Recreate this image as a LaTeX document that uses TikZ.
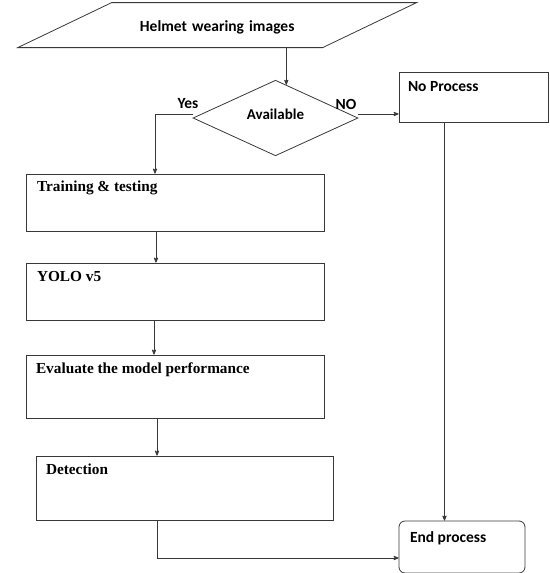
\documentclass[tikz,border=0pt]{standalone}
\usepackage{fontspec}
\usepackage{tikz}
\usetikzlibrary{arrows,shapes.geometric}
\newfontfamily\calfont{Carlito}
\newfontfamily\timesfont{Liberation Serif}
\definecolor{cline}{rgb}{0.22,0.22,0.22}

\begin{document}
\begin{tikzpicture}[-,>=stealth',x=1pt,y=-1pt,line width=0.8pt,
  box node/.style={rectangle,draw=cline,minimum width=298pt,minimum height=57pt,inner sep=0pt},
  input node/.style={trapezium,trapezium left angle=25.6,trapezium right angle=154.4,
        draw=cline,text width=211pt,align=center,text height=29pt,text depth=16pt,inner sep=0pt,
        font=\calfont\bfseries\fontsize{15.5}{17}\selectfont},
  decision node/.style={diamond,draw=cline,minimum width=165pt,minimum height=73pt,inner sep=0pt,
        text depth=8pt,font=\calfont\bfseries\fontsize{15}{17}\selectfont},
  head/.style={anchor=north west,inner sep=0pt,font=\timesfont\bfseries\fontsize{15.3}{17}\selectfont},
  calhead/.style={anchor=north west,inner sep=0pt,font=\calfont\bfseries\fontsize{15.5}{17}\selectfont},
  answer/.style={inner sep=0pt,font=\calfont\bfseries\fontsize{15.5}{17}\selectfont}]
  \useasboundingbox (0,0) rectangle (549,573);

  \node[input node,anchor=bottom left corner] (img) at (16,48) {Helmet wearing images};
  \node[decision node] (dec) at (275.5,118) {Available};
  \node[box node,minimum width=149pt,minimum height=50pt,
        label={[calhead,xshift=9pt,yshift=-9pt]north west:No Process}] (nop) at (473.5,97) {};
  \node[box node,label={[head,xshift=11pt,yshift=-7pt]north west:Training \& testing}] (train) at (175,202.5) {};
  \node[box node,label={[head,xshift=11pt,yshift=-8pt]north west:YOLO v5}] (yolo) at (175,291.5) {};
  \node[box node,minimum height=63pt,
        label={[head,xshift=10pt,yshift=-8pt]north west:Evaluate the model performance}] (eval) at (175,386.5) {};
  \node[box node,minimum width=297pt,minimum height=64pt,
        label={[head,xshift=10pt,yshift=-8pt]north west:Detection}] (det) at (184.5,488) {};
  \node[box node,minimum width=126pt,minimum height=52pt,rounded corners=6pt,
        label={[calhead,xshift=11pt,yshift=-11pt]north west:End process}] (endp) at (462,547) {};

  \node[answer] (yes) at (188,104) {Yes};
  \node[answer] (no) at (346,104) {NO};

  \draw[->,draw=cline] (img.south -| dec.72) -- (dec.72);
  \draw[->,draw=cline] ([yshift=4pt]dec.west) -| ([xshift=-20pt]train.north);
  \draw[->,draw=cline] ([yshift=4pt]dec.east) -- ([yshift=4pt]dec.east -| nop.west);
  \draw[->,draw=cline] ([xshift=-19pt]train.south) -- ([xshift=-19pt]yolo.north);
  \draw[->,draw=cline] ([xshift=-21pt]yolo.south) -- ([xshift=-21pt]eval.north);
  \draw[->,draw=cline] ([xshift=-18pt]eval.south) -- ([xshift=-18pt]eval.south |- det.north);
  \draw[->,draw=cline] ([xshift=-27.5pt]det.south) |- ([yshift=-11pt]endp.west);
  \draw[->,draw=cline] ([xshift=-29pt]nop.south) -- ([xshift=-29pt]nop.south |- endp.north);
\end{tikzpicture}
\end{document}
